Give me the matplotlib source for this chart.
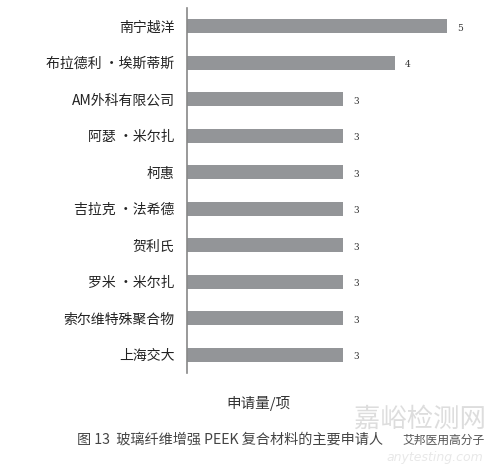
import matplotlib
matplotlib.use("Agg")
import matplotlib.pyplot as plt

plt.rcParams['font.family'] = ['Noto Sans CJK SC', 'DejaVu Sans']

categories = ["南宁越洋", "布拉德利 ·埃斯蒂斯", "AM外科有限公司", "阿瑟 ·米尔扎", "柯惠",
              "吉拉克 ·法希德", "贺利氏", "罗米 ·米尔扎", "索尔维特殊聚合物", "上海交大"]
values = [5, 4, 3, 3, 3, 3, 3, 3, 3, 3]
xlabel = "申请量/项"
caption = "图 13  玻璃纤维增强 PEEK 复合材料的主要申请人"
watermark = "嘉峪检测网"
watermark_sub = "anytesting.com"
source_tag = "艾邦医用高分子"

fig = plt.figure(figsize=(5.0, 4.65), dpi=100)
ax = fig.add_axes([0.374, 1 - 373/465, 0.606, 365/465])

n = len(categories)
ypos = list(range(n))
ax.barh(ypos, values, height=0.38, color="#939598")
ax.set_ylim(n - 0.5, -0.5)
ax.set_xlim(0, 303/52)
ax.set_yticks(ypos)
ax.set_yticklabels(categories, fontsize=10, color="#222222")
ax.tick_params(axis='y', length=0, pad=9)
ax.set_xticks([])
for s in ["top", "right", "bottom"]:
    ax.spines[s].set_visible(False)
ax.spines["left"].set_color("#888888")
ax.spines["left"].set_linewidth(1.2)

for y, v in zip(ypos, values):
    ax.annotate(str(v), (v, y), xytext=(13, -2), textcoords="offset pixels",
                ha="center", va="center", fontsize=6.5, color="#333333",
                family=["DejaVu Serif"])

fig.text(258/500, 1 - 403/465, xlabel, ha="center", va="center", fontsize=10.5, color="#333333")
fig.text(420/500, 1 - 419/465, watermark, ha="center", va="center", fontsize=19, color="#dddddd")
fig.text(435/500, 1 - 457/465, watermark_sub, ha="center", va="center", fontsize=9,
         color="#e8e8e8", style="italic", family=["DejaVu Sans"])
fig.text(77/500, 1 - 440/465, caption, ha="left", va="center", fontsize=10.2, color="#444444")
fig.text(444/500, 1 - 440/465, source_tag, ha="center", va="center", fontsize=8.5,
         color="#555555")

fig.savefig("out.png", dpi=100)
